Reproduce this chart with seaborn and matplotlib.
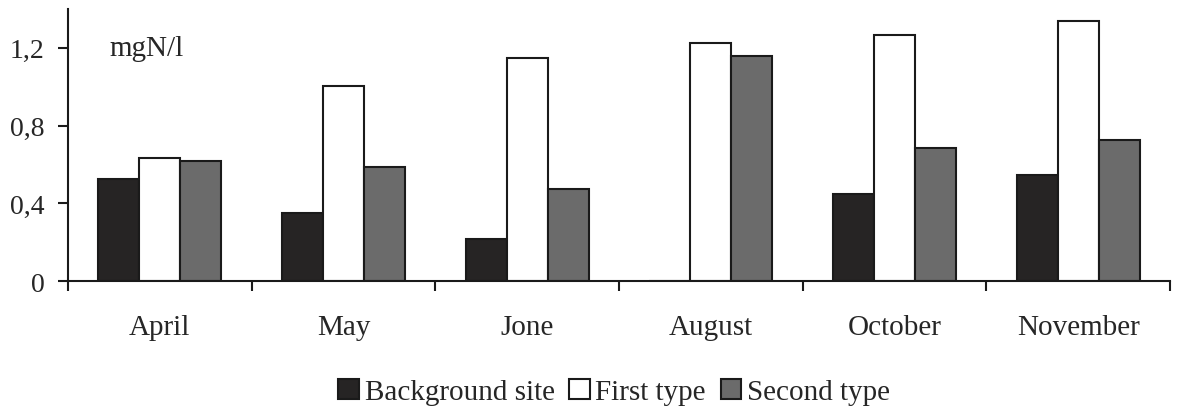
import numpy as np
import pandas as pd
import matplotlib
matplotlib.use('Agg')
import matplotlib.pyplot as plt
from matplotlib.ticker import FixedLocator, FuncFormatter
import seaborn as sns

months = ['April', 'May', 'Jone', 'August', 'October', 'November']
series = ['Background site', 'First type', 'Second type']
background = [0.525, 0.35, 0.215, 0.0, 0.448, 0.546]
first_type = [0.634, 1.005, 1.149, 1.222, 1.263, 1.335]
second_type = [0.619, 0.588, 0.474, 1.155, 0.686, 0.727]
colors = ['#262424', '#ffffff', '#6b6b6b']

df = pd.DataFrame({
    'month': months * 3,
    'series': [s for s in series for _ in months],
    'value': background + first_type + second_type,
})

sns.set_style('ticks')
plt.rcParams['font.family'] = ['Liberation Serif', 'DejaVu Serif']

fig = plt.figure(figsize=(11.81, 4.10), dpi=100)
ax = fig.add_axes([0.0576, 0.312, 0.933, 0.664])

sns.barplot(data=df, x='month', y='value', hue='series', order=months,
            hue_order=series, palette=colors, width=0.67, gap=0,
            edgecolor='#1a1a1a', linewidth=1.5, ax=ax, legend=True)

ax.set_xlim(-0.5, 5.5)
ax.set_ylim(0, 1.4)
ax.set_xlabel('')
ax.set_ylabel('')

# y axis
ax.yaxis.set_major_locator(FixedLocator([0, 0.4, 0.8, 1.2]))
ax.yaxis.set_major_formatter(FuncFormatter(
    lambda v, p: '0' if v == 0 else f'{v:.1f}'.replace('.', ',')))
ax.tick_params(axis='y', length=7, width=1.5, pad=10, labelsize=20,
               color='#1a1a1a')

# x axis: labels at centers, ticks at group boundaries
ax.tick_params(axis='x', which='major', length=0, pad=24, labelsize=21)
ax.xaxis.set_minor_locator(FixedLocator(np.arange(-0.5, 6, 1.0)))
ax.tick_params(axis='x', which='minor', length=7, width=1.5,
               color='#1a1a1a')

for side in ['top', 'right']:
    ax.spines[side].set_visible(False)
for side in ['left', 'bottom']:
    ax.spines[side].set_linewidth(1.5)
    ax.spines[side].set_color('#1a1a1a')

ax.text(0.038, 1.2, 'mgN/l', transform=ax.get_yaxis_transform(),
        fontsize=21, va='center', ha='left')

handles, labels = ax.get_legend_handles_labels()
ax.get_legend().remove()
fig.legend(handles, labels, loc='center', bbox_to_anchor=(0.52, 0.042),
           ncol=3, frameon=False, fontsize=21, handlelength=0.7,
           handleheight=0.7, handletextpad=0.2, columnspacing=0.5)

fig.savefig('out.png', dpi=100)
